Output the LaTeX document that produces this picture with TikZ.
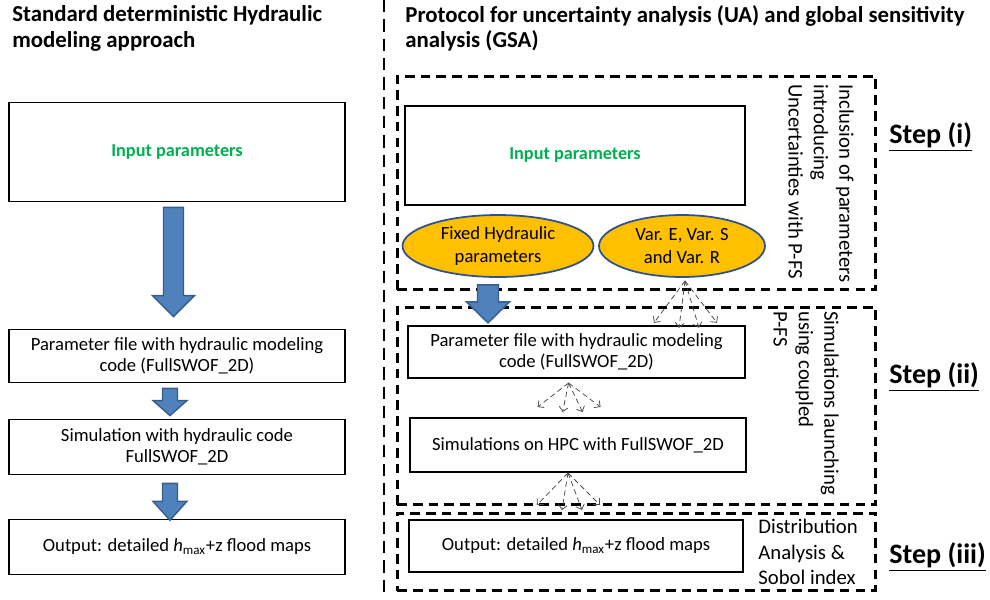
\documentclass[tikz,border=0pt]{standalone}
\usepackage{fontspec}
\setmainfont{Carlito}
\usetikzlibrary{shapes.geometric, arrows.meta, positioning, calc}

\definecolor{arrowblue}{RGB}{79,129,189}
\definecolor{arrowedge}{RGB}{56,93,138}
\definecolor{inputgreen}{RGB}{0,176,80}
\definecolor{ellfill}{RGB}{255,192,0}
\definecolor{elledge}{RGB}{47,82,143}

\tikzset{
  box/.style={rectangle, draw=black, line width=1.1pt, align=center, inner sep=2pt,
    font=\fontsize{10.6}{12.2}\selectfont},
  stepframe/.style={rectangle, draw=black, line width=1.7pt, dash pattern=on 5.5pt off 3.5pt},
  param/.style={ellipse, draw=elledge, line width=1pt, fill=ellfill, align=center, inner sep=0pt,
    font=\fontsize{10.6}{12.6}\selectfont},
  fanarrow/.style={densely dashed, line width=0.45pt, draw=black!70, -{Straight Barb[length=2.5pt,width=5pt]}},
  bigblue/.style={fill=arrowblue, draw=arrowedge, line width=0.8pt},
  sidetext/.style={align=left, inner sep=0pt, font=\fontsize{11.8}{14.4}\selectfont},
  steplabel/.style={anchor=west, inner sep=0pt, font=\bfseries\fontsize{16}{18}\selectfont},
  title/.style={anchor=north west, align=left, inner sep=0pt, font=\bfseries\fontsize{13}{14.6}\selectfont},
}

% block arrow: start, tip, shaft half width, head half width, head length
\newcommand{\blockarrow}[5]{%
  \filldraw[bigblue] let \p1=(#1), \p2=(#2) in
    (\x1-#3,\y1) -- (\x1+#3,\y1) -- (\x1+#3,\y2+#5) -- (\x1+#4,\y2+#5)
    -- (\x1,\y2) -- (\x1-#4,\y2+#5) -- (\x1-#3,\y2+#5) -- cycle;}

% four thin arrows spreading from one point
\newcommand{\fanout}[2]{%
  \foreach \dx/\dy in {-31/0, -6/5, 14/5, 32/0}
    \draw[fanarrow] (#1) -- ++(\dx,#2+\dy);}

\begin{document}
\begin{tikzpicture}[x=0.02cm, y=-0.02cm]
    \useasboundingbox (0,0) rectangle (990,599);

    % Titoli
    \node[title] (titleL) at (12,5) {Standard deterministic Hydraulic\\modeling approach};
    \node[title] (titleR) at (405,5) {Protocol for uncertainty analysis (UA) and global sensitivity\\analysis (GSA)};

    % separatore
    \draw[line width=1.7pt, dash pattern=on 7pt off 4pt] (384,0) -- (384,599);

    % approccio deterministico
    \node[box, minimum width=6.72cm, minimum height=1.98cm, text=inputgreen,
      font=\bfseries\fontsize{10.4}{12}\selectfont] (inL) at (177,152) {Input parameters};
    \node[box, minimum width=6.72cm, minimum height=1.06cm] (pL) at (177,356)
      {Parameter file with hydraulic modeling\\code (FullSWOF\_2D)};
    \node[box, minimum width=6.72cm, minimum height=1.1cm] (sL) at (177,447)
      {Simulation with hydraulic code\\FullSWOF\_2D};
    \node[box, minimum width=6.72cm, minimum height=1.1cm] (oL) at (177,547)
      {Output: detailed \textit{h}\textsubscript{max}+z flood maps};

    \blockarrow{[xshift=-2pt,yshift=-2.8pt]inL.south}{[yshift=6.8pt]pL.north}{0.2cm}{0.42cm}{0.42cm}
    \blockarrow{[xshift=-4pt,yshift=-2.8pt]pL.south}{[yshift=1.7pt]sL.north}{0.15cm}{0.34cm}{0.3cm}
    \blockarrow{[xshift=-4pt,yshift=-4.5pt]sL.south}{[yshift=-1pt]oL.north}{0.15cm}{0.34cm}{0.38cm}

    % cornici dei passi
    \node[stepframe, minimum width=9.58cm, minimum height=4.28cm] (frI) at (636.5,183) {};
    \node[stepframe, minimum width=9.58cm, minimum height=3.96cm] (frII) at (636.5,406) {};
    \node[stepframe, minimum width=9.58cm, minimum height=1.54cm] (frIII) at (636.5,552) {};

    % Step (i)
    \node[box, minimum width=6.8cm, minimum height=1.98cm, text=inputgreen,
      font=\bfseries\fontsize{10.4}{12}\selectfont] (inR) at (575,155.5) {Input parameters};
    \node[param, minimum width=3.82cm, minimum height=1.24cm] (e1) at (498,246)
      {Fixed Hydraulic\\parameters};
    \node[param, minimum width=3.32cm, minimum height=1.24cm] (e2) at (682,246)
      {Var. E, Var. S\\and Var. R};
    \node[sidetext, rotate=-90, anchor=north west] (txtI) at (854,84)
      {Inclusion of parameters\\introducing\\Uncertainties with P-FS};

    % Step (ii)
    \node[box, minimum width=6.74cm, minimum height=1.04cm] (pR) at (576.5,352)
      {Parameter file with hydraulic modeling\\code (FullSWOF\_2D)};
    \node[box, minimum width=6.72cm, minimum height=1.08cm] (sR) at (578,445)
      {Simulations on HPC with FullSWOF\_2D};
    \node[sidetext, rotate=-90, anchor=north west] (txtII) at (839,311)
      {Simulations launching\\using coupled\\P-FS};

    \blockarrow{[xshift=-5.7pt,yshift=-4pt]e1.south}{[yshift=1.2pt]pR.north}{0.21cm}{0.43cm}{0.42cm}
    \fanout{[xshift=1.7pt,yshift=-1.7pt]e2.south}{42}
    \fanout{[xshift=-4.5pt,yshift=-2.3pt]pR.south}{24}
    \fanout{[xshift=-5.7pt]sR.south}{32}

    % Step (iii)
    \node[box, minimum width=6.68cm, minimum height=1.04cm] (oR) at (576,546)
      {Output: detailed \textit{h}\textsubscript{max}+z flood maps};
    \node[sidetext, anchor=north west] (txtIII) at (758,519)
      {Distribution\\Analysis \&\\Sobol index};

    % etichette
    \node[steplabel] (stI) at (889,137) {\underline{Step (i)}};
    \node[steplabel] (stII) at (889,377) {\underline{Step (ii)}};
    \node[steplabel] (stIII) at (889,557) {\underline{Step (iii)}};
\end{tikzpicture}
\end{document}
